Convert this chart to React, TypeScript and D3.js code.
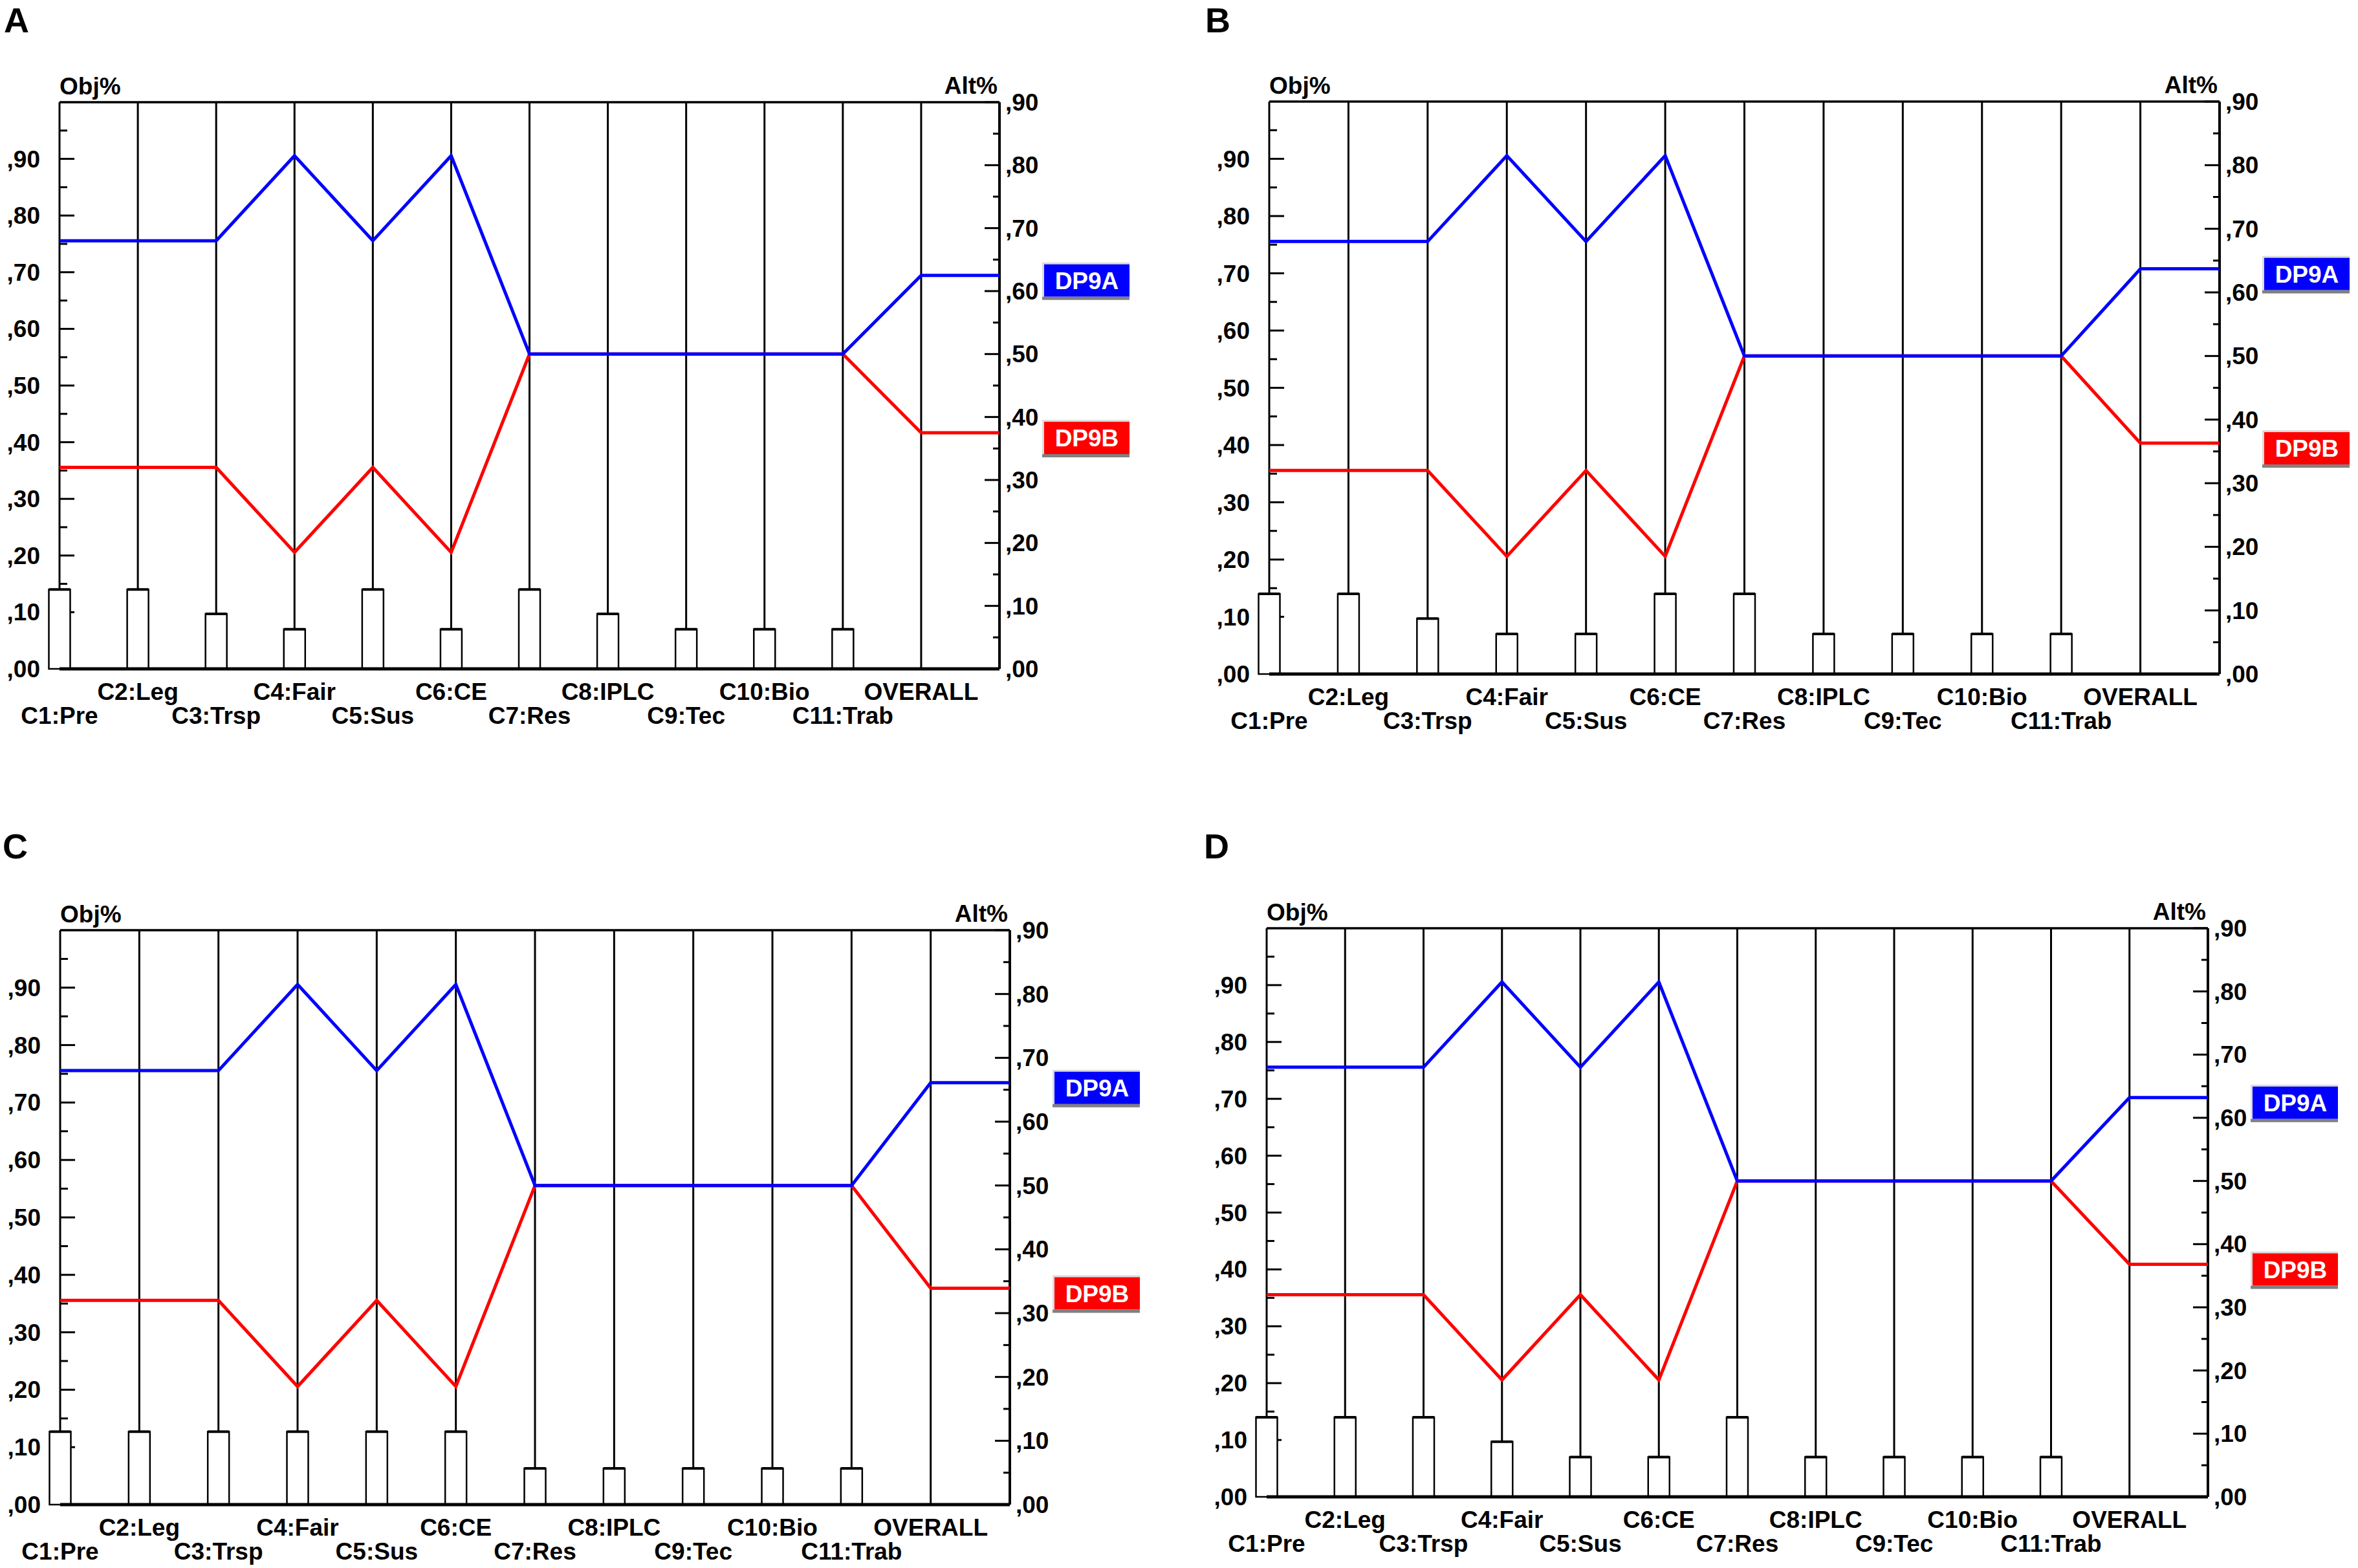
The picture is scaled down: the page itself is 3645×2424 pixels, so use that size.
import React, { useEffect } from "react";
import * as d3 from "d3";

const criteria = ["C1:Pre", "C2:Leg", "C3:Trsp", "C4:Fair", "C5:Sus", "C6:CE", "C7:Res", "C8:IPLC", "C9:Tec", "C10:Bio", "C11:Trab", "OVERALL"];
const altNames = ["DP9A", "DP9B"];
const altColors = ["#0000ff", "#ff0000"];
const objTicks = [0, 0.1, 0.2, 0.3, 0.4, 0.5, 0.6, 0.7, 0.8, 0.9];
const altTicks = [0, 0.1, 0.2, 0.3, 0.4, 0.5, 0.6, 0.7, 0.8, 0.9];

// alternative scores per criterion (same in all panels)
const dp9aCrit = [0.68, 0.68, 0.68, 0.815, 0.68, 0.815, 0.5, 0.5, 0.5, 0.5, 0.5];
const dp9bCrit = [0.32, 0.32, 0.32, 0.185, 0.32, 0.185, 0.5, 0.5, 0.5, 0.5, 0.5];

// overall scores per panel
const overallA = [0.625, 0.375];
const overallB = [0.637, 0.363];
const overallC = [0.661, 0.339];
const overallD = [0.632, 0.368];

// criterion weights (Obj%) per panel
const weightsA = [0.14, 0.14, 0.097, 0.07, 0.14, 0.07, 0.14, 0.097, 0.07, 0.07, 0.07];
const weightsB = [0.14, 0.14, 0.097, 0.07, 0.07, 0.14, 0.14, 0.07, 0.07, 0.07, 0.07];
const weightsC = [0.127, 0.127, 0.127, 0.127, 0.127, 0.127, 0.063, 0.063, 0.063, 0.063, 0.063];
const weightsD = [0.14, 0.14, 0.14, 0.097, 0.07, 0.07, 0.14, 0.07, 0.07, 0.07, 0.07];

const panelLetters = ["A", "B", "C", "D"];

const FONT = "'Liberation Sans', Arial, Helvetica, sans-serif";

type Frame = { x0: number; x1: number; y0: number; y1: number; lx: number; ly: number };

const frames: Frame[] = [
  { x0: 92, x1: 1545, y0: 158, y1: 1034, lx: 6, ly: 50 },
  { x0: 1962, x1: 3431, y0: 157, y1: 1042, lx: 1863, ly: 50 },
  { x0: 93, x1: 1561, y0: 1438, y1: 2326, lx: 4, ly: 1327 },
  { x0: 1958, x1: 3413, y0: 1435, y1: 2314, lx: 1861, ly: 1327 },
];

const fmt = (v: number) => "," + d3.format("02d")(Math.round(v * 100));

function Panel({ f, letter, weights, overall }: { f: Frame; letter: string; weights: number[]; overall: number[] }) {
  const x = d3.scaleLinear().domain([0, 12]).range([f.x0, f.x1]);
  const yObj = d3.scaleLinear().domain([0, 1]).range([f.y1, f.y0]);
  const yAlt = d3.scaleLinear().domain([0, 0.9]).range([f.y1, f.y0]);
  const series = [
    [...dp9aCrit, overall[0], overall[0]],
    [...dp9bCrit, overall[1], overall[1]],
  ];
  const line = d3
    .line<number>()
    .x((_, i) => x(i))
    .y((d) => yAlt(d));
  const barW = 33;
  const minorObj = d3.range(0.05, 1.0, 0.1);
  const minorAlt = d3.range(0.05, 0.9, 0.1);
  const fs = 37;
  const drawOrder = [1, 0]; // red below, blue on top
  return (
    <g>
      <text x={f.lx} y={f.ly} fontFamily={FONT} fontWeight="bold" fontSize={54}>
        {letter}
      </text>
      <text x={f.x0} y={f.y0 - 12} fontFamily={FONT} fontWeight="bold" fontSize={fs}>
        Obj%
      </text>
      <text x={f.x1 - 3} y={f.y0 - 13} fontFamily={FONT} fontWeight="bold" fontSize={fs} textAnchor="end">
        Alt%
      </text>
      {criteria.map((c, i) => (
        <line key={"v" + i} x1={x(i)} x2={x(i)} y1={f.y0} y2={f.y1} stroke="#000" strokeWidth={3} />
      ))}
      <line x1={f.x0} x2={f.x1} y1={f.y0} y2={f.y0} stroke="#000" strokeWidth={3.5} />
      <line x1={f.x1} x2={f.x1} y1={f.y0} y2={f.y1} stroke="#000" strokeWidth={4} />
      {objTicks.map((t) => (
        <line key={"lt" + t} x1={f.x0} x2={f.x0 + 23} y1={yObj(t)} y2={yObj(t)} stroke="#000" strokeWidth={3} />
      ))}
      {minorObj.map((t) => (
        <line key={"lm" + t} x1={f.x0} x2={f.x0 + 12} y1={yObj(t)} y2={yObj(t)} stroke="#000" strokeWidth={3} />
      ))}
      {objTicks.map((t) => (
        <text key={"ll" + t} x={f.x0 - 30} y={yObj(t) + 13} fontFamily={FONT} fontWeight="bold" fontSize={fs} textAnchor="end">
          {fmt(t)}
        </text>
      ))}
      {altTicks.map((t) => (
        <line key={"rt" + t} x1={f.x1 - 23} x2={f.x1} y1={yAlt(t)} y2={yAlt(t)} stroke="#000" strokeWidth={3} />
      ))}
      {minorAlt.map((t) => (
        <line key={"rm" + t} x1={f.x1 - 10} x2={f.x1} y1={yAlt(t)} y2={yAlt(t)} stroke="#000" strokeWidth={3} />
      ))}
      {altTicks.map((t) => (
        <text key={"rl" + t} x={f.x1 + 9} y={yAlt(t) + 13} fontFamily={FONT} fontWeight="bold" fontSize={fs}>
          {fmt(t)}
        </text>
      ))}
      {weights.map((w, i) => (
        <g key={"b" + i}>
          <rect x={x(i) - barW / 2} y={yObj(w)} width={barW} height={f.y1 - yObj(w)} fill="#fff" stroke="#000" strokeWidth={2.5} />
          <line x1={x(i) - barW / 2} x2={x(i) + barW / 2} y1={yObj(w)} y2={yObj(w)} stroke="#000" strokeWidth={4} />
        </g>
      ))}
      <line x1={f.x0} x2={f.x1} y1={f.y1} y2={f.y1} stroke="#000" strokeWidth={5} />
      {drawOrder.map((k) => (
        <path key={"s" + k} d={line(series[k]) || ""} fill="none" stroke={altColors[k]} strokeWidth={5} strokeLinejoin="miter" />
      ))}
      {criteria.map((c, i) => (
        <text
          key={"c" + i}
          x={x(i)}
          y={f.y1 + (i % 2 === 0 ? 85 : 48)}
          fontFamily={FONT}
          fontWeight="bold"
          fontSize={fs}
          textAnchor="middle"
        >
          {c}
        </text>
      ))}
      {altNames.map((n, k) => {
        const cy = yAlt(overall[k]) + 8;
        const bx = f.x1 + 69;
        const bw = 132;
        const bh = 50;
        const by = cy - bh / 2;
        return (
          <g key={"lg" + k}>
            <rect x={bx - 3} y={by - 3} width={bw + 3} height={bh + 3} fill="#dcdcdc" />
            <rect x={bx} y={by} width={bw} height={bh} fill={altColors[k]} />
            <rect x={bx - 3} y={by + bh} width={bw + 3} height={5} fill="#808080" />
            <text x={bx + bw / 2} y={cy + 13} fill="#fff" fontFamily={FONT} fontWeight="bold" fontSize={37} textAnchor="middle">
              {n}
            </text>
          </g>
        );
      })}
    </g>
  );
}

export default function App() {
  useEffect(() => {
    document.body.style.margin = "0";
  }, []);
  const weights = [weightsA, weightsB, weightsC, weightsD];
  const overalls = [overallA, overallB, overallC, overallD];
  return (
    <svg
      width={3645}
      height={2424}
      viewBox="0 0 3645 2424"
      style={{ position: "absolute", left: 0, top: 0, background: "#fff", display: "block" }}
    >
      <rect x={0} y={0} width={3645} height={2424} fill="#fff" />
      {frames.map((f, i) => (
        <Panel key={i} f={f} letter={panelLetters[i]} weights={weights[i]} overall={overalls[i]} />
      ))}
    </svg>
  );
}
